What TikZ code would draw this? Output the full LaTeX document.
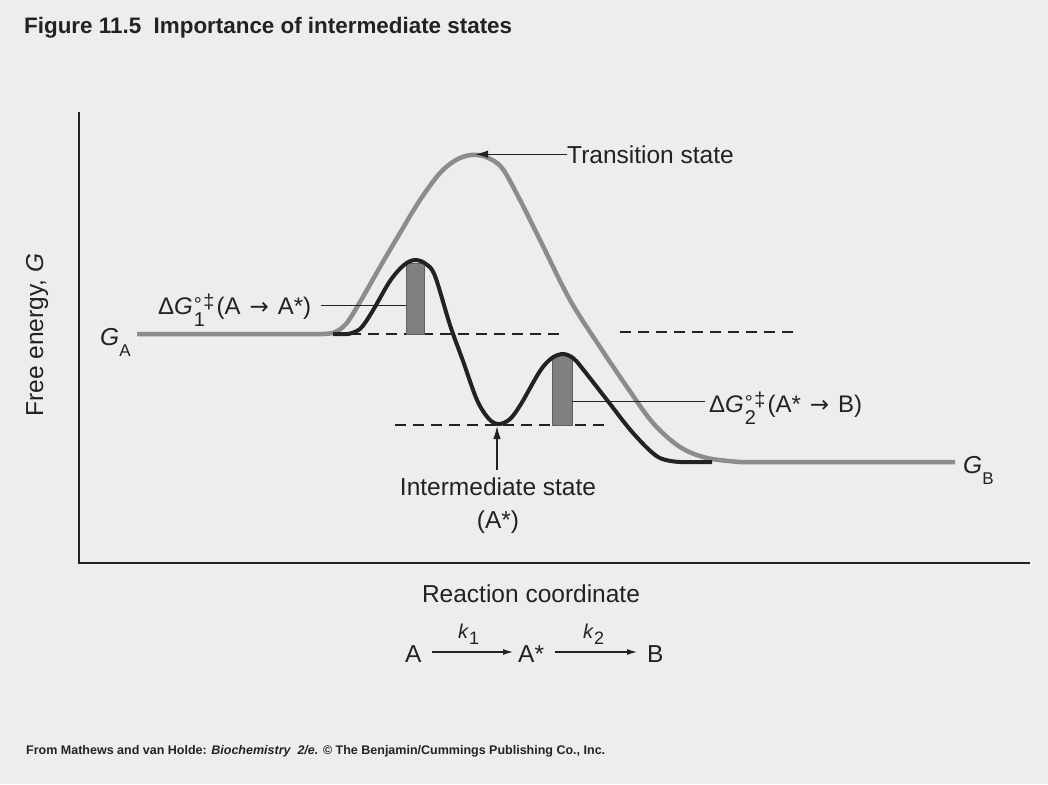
\documentclass[tikz,border=0pt]{standalone}
\usepackage{fontspec}
\setmainfont{Liberation Sans}
\newfontfamily\dejavu{DejaVu Sans}
\usetikzlibrary{arrows.meta}
\definecolor{bgc}{RGB}{237,237,235}
\definecolor{ink}{RGB}{34,34,34}
\definecolor{curvegray}{RGB}{140,140,140}
\definecolor{barfill}{RGB}{128,128,128}
\newcommand\lblfont{\fontsize{24.5}{28}\selectfont}
\newcommand\dgfont{\fontsize{24}{26}\selectfont}
\newcommand\smfont{\fontsize{17}{17}\selectfont}
\newcommand\supfont{\fontsize{20}{20}\selectfont}
\newcommand\dGsym[1]{\char"0394\textit{G}\kern1pt\rlap{\raisebox{-0.5em}{\supfont #1}}\raisebox{0.1em}{\supfont °}\kern1.5pt\raisebox{0.25em}{\supfont ‡}\kern2pt}
\newcommand\rarr{\hspace{9pt}{\dejavu\fontsize{23}{23}\selectfont →}\hspace{9pt}}
\begin{document}
\begin{tikzpicture}[x=1pt,y=-1pt,
  lbl/.style={font=\lblfont, text=ink, inner sep=0pt},
  arr/.style={draw=ink, line width=1.2pt, -{Latex[length=13pt,width=7.5pt]}},
  rarrow/.style={draw=ink, line width=1.2pt, -{Latex[length=10pt,width=6pt]}},
  leader/.style={draw=ink, line width=1pt},
  dashline/.style={draw=ink, line width=1.6pt, dash pattern=on 11pt off 7pt},
  barbox/.style={fill=barfill, draw=barfill!75!black, line width=0.6pt, inner sep=0pt},
  axis/.style={draw=ink, line width=1.5pt}]
\useasboundingbox (0,0) rectangle (1048,784);
\fill[bgc] (0,0) rectangle (1048,784);

% title and footer
\node[anchor=base west, font=\fontsize{22.4}{24}\selectfont\bfseries, text=ink, inner sep=0pt] (title) at (24,34) {Figure 11.5\ \ Importance of intermediate states};
\node[anchor=base west, font=\fontsize{12.5}{14}\selectfont\bfseries, text=ink, inner sep=0pt] (foot) at (26,754) {From Mathews and van Holde: \textit{Biochemistry\ \ 2/e.} © The Benjamin/Cummings Publishing Co., Inc.};

% axes
\coordinate (ytop) at (79,112);
\coordinate (orig) at (79,563);
\coordinate (xend) at (1030,563);
\draw[axis] (ytop) -- (orig) -- (xend);
\node[lbl, rotate=90, anchor=base] (ylab) at (43,335) {Free energy, \textit{G}};
\node[lbl, anchor=base] (xlab) at (531,602) {Reaction coordinate};

% dashed reference levels
\coordinate (d1a) at (350,334); \coordinate (d1b) at (560,334);
\coordinate (d2a) at (620,332); \coordinate (d2b) at (797,332);
\coordinate (d3a) at (395,425); \coordinate (d3b) at (608,425);
\draw[dashline] (d1a) -- (d1b);
\draw[dashline] (d2a) -- (d2b);
\draw[dashline] (d3a) -- (d3b);

% barrier bars
\node[barbox, minimum width=18pt, minimum height=71pt] (bar1) at (415,298.5) {};
\node[barbox, minimum width=20pt, minimum height=70pt] (bar2) at (562,390) {};

% uncatalysed (grey) curve
\draw[curvegray, line width=4.5pt, line join=round]
  (137,334) -- (322,334)
  plot[smooth, tension=0.55] coordinates {(322,334) (334,332.5) (346,324) (360,302) (380,267) (400,233) (420,200) (440,173) (456,160) (471,155) (486,157) (502,168) (520,200) (540,240) (570,300) (600,347) (627,387) (653,423) (680,447) (707,458) (740,462)}
  -- (955,462);

% catalysed (black) curve with intermediate
\draw[ink, line width=4pt, line join=round]
  (333,334) -- (348,334)
  plot[smooth, tension=0.55] coordinates {(348,334) (360,329) (372,312) (390,281) (404,265) (415,260) (426,264) (435,276) (450,325) (463,361) (477,400) (489,419) (499,424) (510,419) (521,404) (540,371) (552,358) (563,354) (573,358) (582,368) (607,400) (633,433) (658,457) (680,462)}
  -- (712,462);

% level labels
\node[lbl, anchor=base west] (GA) at (100,345) {\textit{G}\raisebox{-0.45em}{\smfont A}};
\node[lbl, anchor=base west] (GB) at (963,473) {\textit{G}\raisebox{-0.45em}{\smfont B}};

% transition state
\coordinate (tspk) at (475,155);
\node[lbl, anchor=base west] (ts) at (567,163) {Transition state};
\draw[arr] (ts.west) -- (ts.west -| tspk);

% intermediate state
\coordinate (imin) at (497,426);
\node[lbl, anchor=base] (is1) at (498,495) {Intermediate state};
\node[lbl, anchor=base] (is2) at (498,528) {(A*)};
\draw[arr] ([yshift=7pt]is1.north -| imin) -- (imin);

% activation energy labels
\node[lbl, font=\dgfont, anchor=base west] (dg1) at (158,314) {\dGsym{1}(A\rarr A*)};
\coordinate (l1) at (321,305);
\draw[leader] (l1) -- (l1 -| bar1.west);
\node[lbl, font=\dgfont, anchor=base west] (dg2) at (709,412) {\dGsym{2}(A*\rarr B)};
\coordinate (l2) at (705,401);
\draw[leader] (bar2.east |- l2) -- (l2);

% reaction scheme
\node[lbl, anchor=base west] (rA) at (405,662) {A};
\node[lbl, anchor=base west] (rAs) at (518,662) {A*};
\node[lbl, anchor=base west] (rB) at (647,662) {B};
\coordinate (a1s) at (432,652); \coordinate (a1e) at (513,652);
\coordinate (a2s) at (555,652); \coordinate (a2e) at (637,652);
\draw[rarrow] (a1s) -- (a1e);
\draw[rarrow] (a2s) -- (a2e);
\node[lbl, anchor=base west, font=\fontsize{20}{22}\selectfont] (k1) at (458,638) {\textit{k}\raisebox{-0.3em}{\fontsize{18}{18}\selectfont 1}};
\node[lbl, anchor=base west, font=\fontsize{20}{22}\selectfont] (k2) at (583,638) {\textit{k}\raisebox{-0.3em}{\fontsize{18}{18}\selectfont 2}};
\end{tikzpicture}
\end{document}
